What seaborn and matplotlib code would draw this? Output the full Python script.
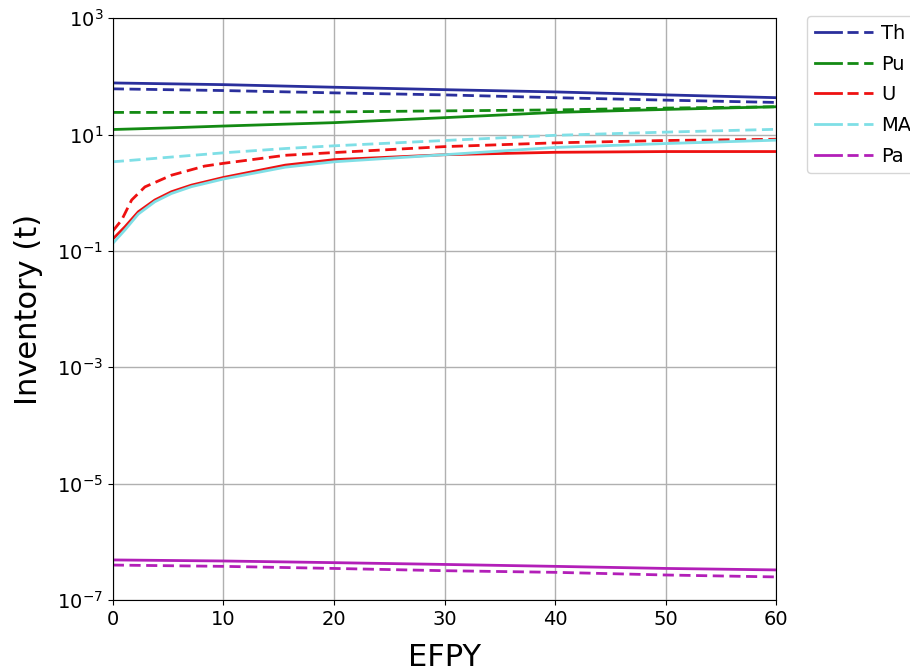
import numpy as np
import pandas as pd
import matplotlib
matplotlib.use("Agg")
import matplotlib.pyplot as plt
import seaborn as sns
from matplotlib.legend_handler import HandlerTuple
from matplotlib.lines import Line2D
from matplotlib.ticker import NullLocator

# ---- data ----
elements = ["Th", "Pu", "U", "MA", "Pa"]

th_solid_x = [0, 10, 20, 30, 40, 50, 60]
th_solid_y = [77, 72, 65, 59, 54, 48, 43]
th_dash_x = [0, 10, 20, 30, 40, 50, 60]
th_dash_y = [61, 57, 52, 48, 43, 39, 35.6]

pu_solid_x = [0, 5, 10, 20, 30, 40, 50, 60]
pu_solid_y = [12.2, 13.0, 14.0, 16.0, 19.5, 24.0, 27.0, 30.0]
pu_dash_x = [0, 10, 20, 30, 40, 50, 60]
pu_dash_y = [24, 24, 24.5, 25.5, 26.5, 28.5, 30.0]

u_solid_x = [0, 1.1, 2.3, 3.8, 5.3, 7.1, 10, 15.6, 20, 30, 40, 50, 60]
u_solid_y = [0.16, 0.26, 0.47, 0.75, 1.04, 1.35, 1.83, 2.98, 3.7, 4.5, 4.95, 5.1, 5.1]
u_dash_x = [0, 0.8, 1.7, 2.9, 5.3, 8.3, 10, 15.6, 20, 30, 40, 50, 60]
u_dash_y = [0.22, 0.34, 0.75, 1.26, 2.0, 2.87, 3.2, 4.4, 4.9, 6.2, 7.2, 7.9, 8.3]

ma_solid_x = [0, 1.1, 2.3, 3.8, 5.3, 7.1, 10, 15.6, 20, 30, 40, 50, 60]
ma_solid_y = [0.135, 0.23, 0.43, 0.70, 0.97, 1.27, 1.72, 2.75, 3.4, 4.5, 6.0, 7.0, 8.0]
ma_dash_x = [0, 10, 15.6, 20, 30, 40, 50, 60]
ma_dash_y = [3.4, 4.85, 5.75, 6.4, 7.9, 9.7, 11.0, 12.3]

pa_solid_x = [0, 10, 20, 30, 40, 50, 60]
pa_solid_y = [4.9e-7, 4.7e-7, 4.4e-7, 4.1e-7, 3.8e-7, 3.5e-7, 3.3e-7]
pa_dash_x = [0, 10, 20, 30, 40, 50, 60]
pa_dash_y = [4.0e-7, 3.8e-7, 3.5e-7, 3.2e-7, 3.0e-7, 2.7e-7, 2.5e-7]

series = {
    ("Th", "a"): (th_solid_x, th_solid_y), ("Th", "b"): (th_dash_x, th_dash_y),
    ("Pu", "a"): (pu_solid_x, pu_solid_y), ("Pu", "b"): (pu_dash_x, pu_dash_y),
    ("U", "a"): (u_solid_x, u_solid_y), ("U", "b"): (u_dash_x, u_dash_y),
    ("MA", "a"): (ma_solid_x, ma_solid_y), ("MA", "b"): (ma_dash_x, ma_dash_y),
    ("Pa", "a"): (pa_solid_x, pa_solid_y), ("Pa", "b"): (pa_dash_x, pa_dash_y),
}

rows = []
for (el, case), (xs, ys) in series.items():
    for x, y in zip(xs, ys):
        rows.append({"EFPY": x, "Inventory": y, "element": el, "case": case})
df = pd.DataFrame(rows)

colors = {"Th": "#2a2f9c", "Pu": "#138a13", "U": "#ee1111", "MA": "#7fdfe6", "Pa": "#b21fb8"}
dash_style = (0, (4, 2))

fig = plt.figure(figsize=(9.1, 6.72), dpi=100)
ax = fig.add_axes([0.124, 0.107, 0.729, 0.866])

for el in elements:
    for case in ["a", "b"]:
        sub = df[(df.element == el) & (df.case == case)]
        sns.lineplot(data=sub, x="EFPY", y="Inventory", ax=ax, color=colors[el],
                     linewidth=2.0, legend=False, sort=True, estimator=None,
                     linestyle="-" if case == "a" else dash_style)

ax.set_yscale("log")
ax.set_ylim(1e-7, 1e3)
ax.set_xlim(0, 60)
ax.set_yticks([1e-7, 1e-5, 1e-3, 1e-1, 1e1, 1e3])
ax.yaxis.set_minor_locator(NullLocator())
ax.set_xticks([0, 10, 20, 30, 40, 50, 60])
ax.grid(True, color="#b0b0b0", linewidth=1.0)
ax.tick_params(labelsize=14)
for s in ax.spines.values():
    s.set_color("black")
ax.set_xlabel("EFPY", fontsize=22, labelpad=10)
ax.set_ylabel("Inventory (t)", fontsize=22, labelpad=10)

handles = []
for el in elements:
    h1 = Line2D([], [], color=colors[el], lw=2.0, ls="-")
    h2 = Line2D([], [], color=colors[el], lw=2.0, ls=dash_style)
    handles.append((h1, h2))
fig.legend(handles, elements, handler_map={tuple: HandlerTuple(ndivide=None, pad=0.3)},
           loc="upper left", bbox_to_anchor=(0.887, 0.976), fontsize=14,
           handlelength=3.0, handletextpad=0.4, labelspacing=0.6, borderaxespad=0)

fig.savefig("out.png", dpi=100)
